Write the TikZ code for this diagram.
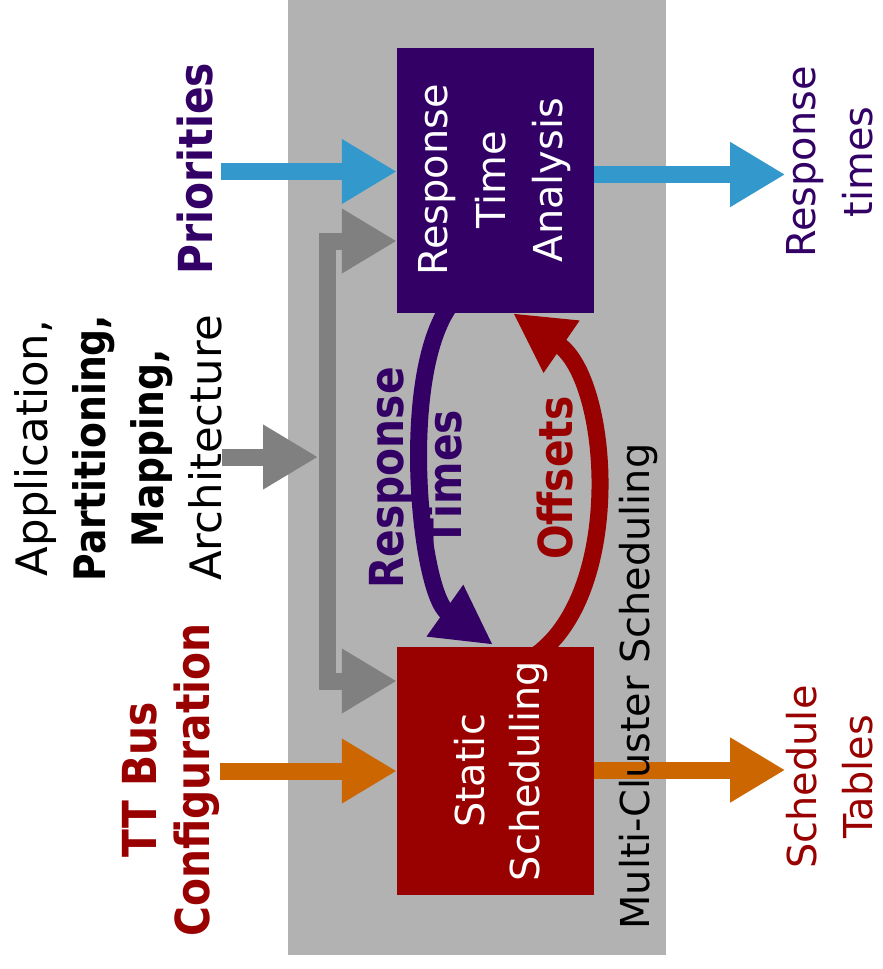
\documentclass[tikz,border=0pt]{standalone}
\usepackage{fontspec}
\setmainfont{DejaVu Sans}[BoldFeatures={FakeStretch=0.87}]
\usepackage{xcolor}
\usepackage{tikz}
\usetikzlibrary{positioning,calc,arrows.meta}

\definecolor{bggray}{HTML}{B2B2B2}
\definecolor{rtapurple}{HTML}{330066}
\definecolor{ssred}{HTML}{990000}
\definecolor{prioblue}{HTML}{3399CC}
\definecolor{busorange}{HTML}{CC6600}
\definecolor{archgray}{HTML}{808080}

\begin{document}
\begin{tikzpicture}[
    x=0.03cm, y=-0.03cm,
    box/.style={rectangle, inner sep=0pt, minimum width=5.91cm},
    vtxt/.style={rotate=90, align=center, inner sep=0pt},
    reg/.style={font=\fontsize{34}{49}\selectfont},
    hvy/.style={font=\fontsize{40}{48}\selectfont\bfseries},
    fat/.style={line width=0.51cm, -{Triangle[length=1.65cm, width=1.83cm]}},
    loopy/.style={line width=0.51cm, -{Triangle[length=1.77cm, width=1.77cm]}}
]
\useasboundingbox (0,0) rectangle (882,969);
\fill[bggray] (288,0) rectangle (666,955);

% the two analysis blocks
\node[box, fill=rtapurple, minimum height=7.95cm] (rta) at (495.5,180.5) {};
\node[box, fill=ssred, minimum height=7.44cm] (ss) at (495.5,771) {};
\node[vtxt, reg, text=white] (rtat) at (495,180) {Response\\Time\\Analysis};
\node[vtxt, reg, text=white, font=\fontsize{34}{47}\selectfont] (sst) at (501,771) {Static\\Scheduling};

% inputs and outputs
\node[vtxt, hvy, text=rtapurple] (prio) at (195,168.5) {Priorities};
\node[vtxt, font=\fontsize{37}{49.5}\selectfont] (apma) at (118,448)
    {Application,\\\textbf{Partitioning,}\\\textbf{Mapping,}\\Architecture};
\node[vtxt, hvy, text=ssred, font=\fontsize{40}{46}\selectfont\bfseries] (ttbus) at (171,780)
    {TT Bus\\Configuration};
\node[vtxt, reg, text=rtapurple, font=\fontsize{34}{49}\selectfont] (rtout) at (830,162) {Response\\times};
\node[vtxt, reg, text=ssred, font=\fontsize{34}{48}\selectfont] (stout) at (830,777) {Schedule\\Tables};
\coordinate (jn) at (327,457);

\draw[fat, prioblue] ($(prio.south)+(8,3)$) -- ($(rta.west)+(0,-9)$);
\draw[fat, prioblue] ($(rta.east)+(0,-6)$) -- ($(rta.east)+(191,-6)$);
\draw[fat, busorange] (ttbus.south |- ss.west) -- (ss.west);
\draw[fat, busorange] ($(ss.east)+(0,-1)$) -- ($(ss.east)+(191,-1)$);
\draw[fat, archgray] (apma.south |- jn) -- ($(jn)+(-9,0)$);
\draw[line width=0.51cm, archgray,
      {Triangle[length=1.65cm, width=1.83cm]}-{Triangle[length=1.65cm, width=1.83cm]}]
    ($(rta.west)+(0,60.5)$) -| (jn) |- ($(ss.west)+(0,-90)$);

% feedback loop
\draw[loopy, rtapurple] ($(rta.south)+(-45.5,-8)$) .. controls (398,378) and (420,593) .. ($(ss.north)+(-2.5,-2)$);
\draw[loopy, ssred] ($(ss.north)+(41,8)$) .. controls (625,590) and (610,380) .. ($(rta.south)+(17.5,0)$);
\node[vtxt, hvy, text=rtapurple, font=\fontsize{40}{49.5}\selectfont\bfseries] (rtlbl) at (416,478) {Response\\Times};
\node[vtxt, hvy, text=ssred] (offlbl) at (555,478) {Offsets};
\node[vtxt, reg] (mcs) at (638.5,686.5) {Multi-Cluster Scheduling};
\end{tikzpicture}
\end{document}
